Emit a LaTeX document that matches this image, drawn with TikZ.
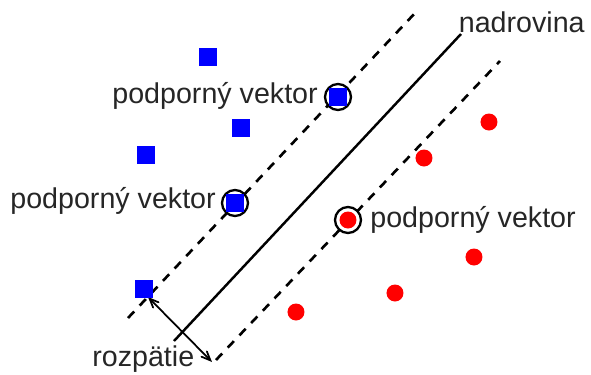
\documentclass[tikz,border=0pt]{standalone}
\usepackage{fontspec}
\setmainfont{Liberation Sans}
\usepackage{tikz}
\usetikzlibrary{arrows}
\pgfdeclarelayer{edgelayer}
\pgfdeclarelayer{nodelayer}
\pgfsetlayers{edgelayer,nodelayer,main}
\tikzstyle{none}=[inner sep=0pt]
\tikzstyle{blue square}=[rectangle, fill=blue, minimum size=0.36cm, inner sep=0pt]
\tikzstyle{red dot}=[circle, fill=red, minimum size=0.34cm, inner sep=0pt]
\tikzstyle{support}=[circle, draw=black, fill=white, line width=1.3pt, minimum size=0.52cm, inner sep=0pt]
\tikzstyle{caption}=[inner sep=0pt, font=\fontsize{16.3}{20}\selectfont, text=black!85]
\tikzstyle{margin}=[dashed, line width=1.5pt, dash pattern=on 0.18cm off 0.16cm]
\tikzstyle{plane}=[line width=1.4pt]

\begin{document}
\begin{tikzpicture}
					\useasboundingbox (0,0) rectangle (11.82,-7.5);
					\begin{pgfonlayer}{nodelayer}
						\node [style=none] (0) at (2.56, -6.36) {};
						\node [style=none] (1) at (8.32, -0.24) {};
						\node [style=none] (2) at (3.48, -6.82) {};
						\node [style=none] (3) at (9.22, -0.68) {};
						\node [style=none] (4) at (4.32, -7.2) {};
						\node [style=none] (5) at (10, -1.22) {};
						\node [style=blue square] (6) at (4.16, -1.14) {};
						\node [style=blue square] (7) at (4.82, -2.56) {};
						\node [style=blue square] (8) at (2.92, -3.1) {};
						\node [style=blue square] (9) at (2.88, -5.78) {};
						\node [style=support] (10) at (6.76, -1.94) {};
						\node [style=blue square] (11) at (6.76, -1.94) {};
						\node [style=support] (12) at (4.7, -4.06) {};
						\node [style=blue square] (13) at (4.7, -4.06) {};
						\node [style=red dot] (14) at (9.78, -2.44) {};
						\node [style=red dot] (15) at (8.48, -3.16) {};
						\node [style=red dot] (16) at (9.48, -5.14) {};
						\node [style=red dot] (17) at (7.9, -5.86) {};
						\node [style=red dot] (18) at (5.92, -6.24) {};
						\node [style=support] (19) at (6.96, -4.4) {};
						\node [style=red dot] (20) at (6.96, -4.4) {};
						\node [style=caption, anchor=base east] (21) at (11.7, -0.64) {nadrovina};
						\node [style=caption, anchor=base west] (22) at (2.24, -2.06) {podporný vektor};
						\node [style=caption, anchor=base west] (23) at (0.2, -4.16) {podporný vektor};
						\node [style=caption, anchor=base west] (24) at (7.4, -4.54) {podporný vektor};
						\node [style=caption, anchor=base west] (25) at (1.84, -7.32) {rozpätie};
						\node [style=none] (26) at (2.96, -5.94) {};
						\node [style=none] (27) at (4.24, -7.24) {};
					\end{pgfonlayer}
					\begin{pgfonlayer}{edgelayer}
						\draw [style=margin] (0.center) to (1.center);
						\draw [style=plane] (2.center) to (3.center);
						\draw [style=margin] (4.center) to (5.center);
						\draw [<->, >=angle 45, line width=1pt] (26.center) to (27.center);
					\end{pgfonlayer}
				\end{tikzpicture}
\end{document}
